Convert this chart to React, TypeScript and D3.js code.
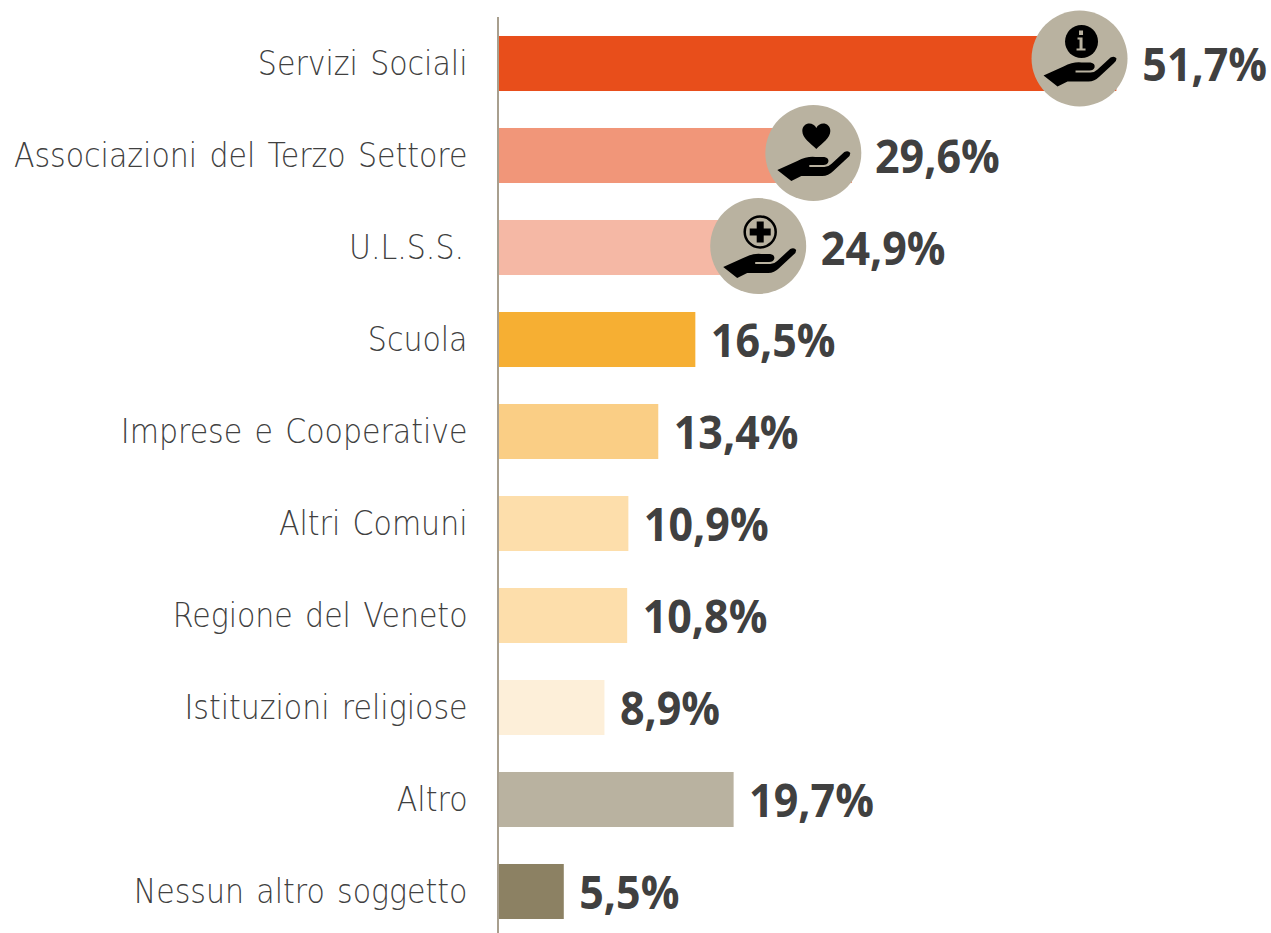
import { scaleBand, scaleLinear } from 'd3';

const width = 1271;
const height = 933;

const categories = [
  'Servizi Sociali',
  'Associazioni del Terzo Settore',
  'U.L.S.S.',
  'Scuola',
  'Imprese e Cooperative',
  'Altri Comuni',
  'Regione del Veneto',
  'Istituzioni religiose',
  'Altro',
  'Nessun altro soggetto',
];
const values = [51.7, 29.6, 24.9, 16.5, 13.4, 10.9, 10.8, 8.9, 19.7, 5.5];
const colors = [
  '#e84e1b', '#f19679', '#f5b8a5', '#f6af33', '#face85',
  '#fddeab', '#fddeab', '#fdefd9', '#b9b2a0', '#8c8163',
];
const icons = ['info', 'heart', 'plus'];

const x = scaleLinear().domain([0, 10]).range([498, 617.6]);
const y = scaleBand<string>()
  .domain(categories)
  .range([17.5, 937.5])
  .paddingInner(0.402)
  .paddingOuter(0.201);

const beige = '#b9b2a0';
const handPath =
  'M-36,17 L-16,8 Q-6,3 2,4 L11,4 Q16,5 15,9 Q14,12 10,12 L-4,12 L-4,14 L11,14 Q15,14 18,11 L31,-1 Q35,-3 37,0 Q37,3 34,5 L20,18 Q15,23 9,23 L-12,23 L-22,28 Z';
const heartPath =
  'M0,13 C-6,7 -14,2 -14,-5 C-14,-14 -3,-15 0,-8 C3,-15 14,-14 14,-5 C14,2 6,7 0,13 Z';

// the three badges don't sit at the same spot on their bars
const iconDx = [-36.8, -38.7, -37.6];
const iconDy = [-5, -2.5, -1.5];
const labelDx = [26, 23, 25];

const Icon = ({ kind, cx, cy }: { kind: string; cx: number; cy: number }) => (
  <g transform={`translate(${cx},${cy})`}>
    <circle r={48} fill={beige} />
    <path d={handPath} fill="#000" transform={kind === 'plus' ? 'translate(1,4)' : undefined} />
    {kind === 'info' && (
      <g transform="translate(2,-17)">
        <circle r={16.5} fill="#000" />
        <path
          d="M-2.5,-11 h4 v4.5 h-4 z M-4,-4 h5 v11 h3 v2 h-9 v-2 h3 v-9 h-2 z"
          fill={beige}
        />
      </g>
    )}
    {kind === 'heart' && <path d={heartPath} fill="#000" transform="translate(3,-17)" />}
    {kind === 'plus' && (
      <g transform="translate(2,-14)">
        <circle r={15.5} fill="none" stroke="#000" strokeWidth={2.5} />
        <path d="M-3.5,-10.5 h7 v7 h7 v7 h-7 v7 h-7 v-7 h-7 v-7 h7 z" fill="#000" />
      </g>
    )}
  </g>
);

const App = () => {
  return (
    <svg
      width={width}
      height={height}
      style={{ position: 'absolute', left: 0, top: 0, display: 'block' }}
    >
      {categories.map((c, i) => {
        const top = y(c) as number;
        const mid = top + y.bandwidth() / 2;
        const end = x(values[i]);
        const hasIcon = i < icons.length;
        return (
          <g key={c}>
            <rect x={x(0)} y={top} width={end - x(0)} height={y.bandwidth()} fill={colors[i]} />
            <text
              transform={`translate(${i === 2 ? 464 : 467.5},${mid + 11.5}) scale(0.91,1)`}
              textAnchor="end"
              fontFamily="'DejaVu Sans'"
              fontWeight={200}
              fontSize={33}
              fill="#404040"
              style={{ wordSpacing: 3 }}
            >
              {c}
            </text>
            {hasIcon && <Icon kind={icons[i]} cx={end + iconDx[i]} cy={mid + iconDy[i]} />}
            <text
              transform={`translate(${end + (hasIcon ? labelDx[i] : 15.5)},${mid + 17}) scale(0.935,1)`}
              fontFamily="'Open Sans'"
              fontWeight={700}
              fontSize={46}
              fill="#404040"
            >
              {`${values[i].toFixed(1).replace('.', ',')}%`}
            </text>
          </g>
        );
      })}
      <line x1={x(0)} x2={x(0)} y1={17} y2={933} stroke="#a89f8e" strokeWidth={2} />
    </svg>
  );
};

export default App;
